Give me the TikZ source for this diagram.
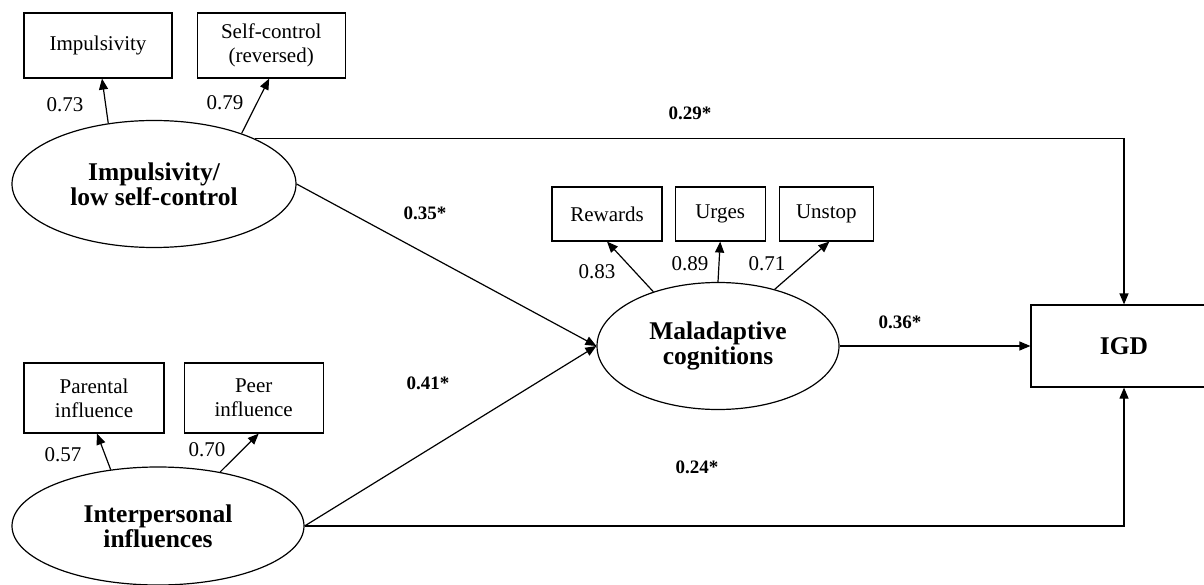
\documentclass[tikz,border=0pt]{standalone}
\usepackage{fontspec}
\setmainfont{Liberation Serif}
\usetikzlibrary{shapes.geometric,arrows.meta,positioning,calc}
\tikzstyle{obsbox} = [rectangle, draw=black, line width=1.2pt, align=center, inner sep=0pt, font=\fontsize{21}{24}\selectfont]
\tikzstyle{latent} = [ellipse, draw=black, line width=1.2pt, align=center, inner sep=0pt, font=\bfseries\fontsize{25.5}{25}\selectfont]
\tikzstyle{outbox} = [rectangle, draw=black, line width=1.2pt, inner sep=0pt, font=\bfseries\fontsize{25.5}{25}\selectfont]
\tikzstyle{loading} = [inner sep=0pt, font=\fontsize{21}{24}\selectfont]
\tikzstyle{coef} = [inner sep=0pt, font=\bfseries\fontsize{19}{22}\selectfont]
\tikzstyle{arrow} = [line width=1.2pt,-{Triangle[length=11pt,width=9pt]}]
\begin{document}
\begin{tikzpicture}[x=1pt, y=-1pt]
	\useasboundingbox (0,0) rectangle (1204,585);
	% Latent variables
	\node (imp) [latent, minimum width=284pt, minimum height=127pt] at (154,184) {Impulsivity/\\low self-control};
	\node (inter) [latent, minimum width=292pt, minimum height=118pt] at (158,526) {Interpersonal\\influences};
	\node (mal) [latent, minimum width=242pt, minimum height=127pt] at (718,346) {Maladaptive\\cognitions};
	\node (igd) [outbox, minimum width=186pt, minimum height=82pt] at (1124,346) {IGD};
	% Indicators
	\node (impbox) [obsbox, minimum width=148pt, minimum height=65pt] at (98,45.5) {Impulsivity};
	\node (selfbox) [obsbox, minimum width=148pt, minimum height=65pt, right=24pt of impbox] {Self-control\\(reversed)};
	\node (rewards) [obsbox, minimum width=110pt, minimum height=54pt] at (607,214) {Rewards};
	\node (urges) [obsbox, minimum width=90pt, minimum height=54pt, right=12pt of rewards] {Urges};
	\node (unstop) [obsbox, minimum width=94pt, minimum height=54pt, right=13pt of urges] {Unstop};
	\node (parental) [obsbox, minimum width=140pt, minimum height=70pt] at (94,398) {Parental\\influence};
	\node (peer) [obsbox, minimum width=139pt, minimum height=70pt, right=19pt of parental] {Peer\\influence};
	% Loadings
	\node (l1) [loading] at (65,105) {0.73};
	\node (l2) [loading] at (225,103) {0.79};
	\node (l3) [loading] at (597,272) {0.83};
	\node (l4) [loading] at (690,264) {0.89};
	\node (l5) [loading] at (767,264) {0.71};
	\node (l6) [loading] at (63,455) {0.57};
	\node (l7) [loading] at (207,450) {0.70};
	% Path coefficients
	\node (c1) [coef] at (690,113) {0.29*};
	\node (c2) [coef] at (425,213) {0.35*};
	\node (c3) [coef] at (428,383) {0.41*};
	\node (c4) [coef] at (900,322) {0.36*};
	\node (c5) [coef] at (697,467) {0.24*};
	% Arrows
	\draw[arrow] (imp.127) -- ([xshift=4pt]impbox.south);
	\draw[arrow] (imp.30) -- ([xshift=-2pt]selfbox.south);
	\draw[arrow] (mal.140) -- (rewards.south);
	\draw[arrow] (mal.90) -- (urges.south);
	\draw[arrow] (mal.45) -- ([xshift=3pt]unstop.south);
	\draw[arrow] (inter.130) -- ([xshift=3pt]parental.south);
	\draw[arrow] (inter.41) -- ([xshift=5pt]peer.south);
	\draw[arrow] (imp.east) -- (mal.west);
	\draw[arrow] (inter.east) -- (mal.west);
	\draw[arrow] (mal.east) -- (igd.west);
	\draw[arrow] (imp.24) -| (igd.north);
	\draw[arrow] (inter.east) -| (igd.south);
\end{tikzpicture}
\end{document}
